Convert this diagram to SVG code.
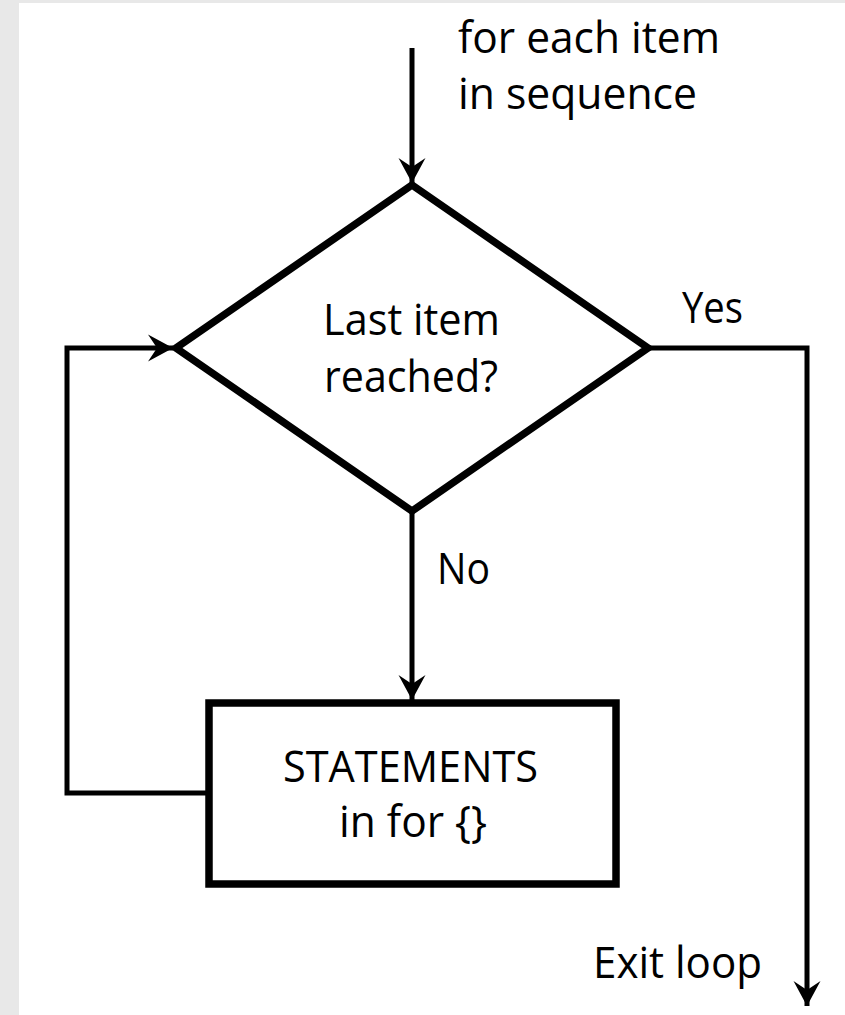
<svg xmlns="http://www.w3.org/2000/svg" width="845" height="1015" viewBox="0 0 845 1015">
  <style>
    .lbl { font-family: "Open Sans", "Noto Sans", "Liberation Sans", sans-serif; font-size: 44px; fill: #000; }
    .conn { fill: none; stroke: #000; stroke-width: 5; stroke-linejoin: miter; }
    .shape { fill: #fff; stroke: #000; stroke-width: 7.5; stroke-linejoin: miter; }
  </style>
  <defs>
    <marker id="arrow" markerUnits="userSpaceOnUse" markerWidth="30" markerHeight="30" viewBox="-26 -15 28 30" refX="0" refY="0" orient="auto">
      <path d="M0,0 L-25,-13.5 L-16,0 L-25,13.5 Z" fill="#000"/>
    </marker>
  </defs>
  <rect x="0" y="0" width="845" height="1015" fill="#e8e8e8"/>
  <rect x="19" y="3" width="826" height="1012" fill="#fff"/>

  <g id="connectors">
    <path class="conn" d="M412,48 L412,183" marker-end="url(#arrow)"/>
    <path class="conn" d="M412,511 L412,700" marker-end="url(#arrow)"/>
    <path class="conn" d="M209,793 L67,793 L67,348 L173,348" marker-end="url(#arrow)"/>
    <path class="conn" d="M648,348 L807,348 L807,1006" marker-end="url(#arrow)"/>
  </g>

  <g id="start-label">
    <text class="lbl" x="458" y="53" textLength="262" lengthAdjust="spacingAndGlyphs">for each item</text>
    <text class="lbl" x="458" y="109" textLength="239" lengthAdjust="spacingAndGlyphs">in sequence</text>
  </g>

  <g id="decision">
    <polygon class="shape" points="412,185 648,348 412,511 176,348"/>
    <text class="lbl" x="323" y="335" textLength="177" lengthAdjust="spacingAndGlyphs">Last item</text>
    <text class="lbl" x="324" y="392" textLength="174" lengthAdjust="spacingAndGlyphs">reached?</text>
  </g>

  <g id="yes-label">
    <text class="lbl" x="682" y="323" textLength="61" lengthAdjust="spacingAndGlyphs">Yes</text>
  </g>

  <g id="no-label">
    <text class="lbl" x="437" y="584" textLength="53" lengthAdjust="spacingAndGlyphs">No</text>
  </g>

  <g id="statements">
    <rect class="shape" x="209" y="703" width="407" height="181"/>
    <text class="lbl" x="283" y="782" textLength="255" lengthAdjust="spacingAndGlyphs">STATEMENTS</text>
    <text class="lbl" x="339" y="837" textLength="148" lengthAdjust="spacingAndGlyphs">in for {}</text>
  </g>

  <g id="exit-label">
    <text class="lbl" x="593" y="978" textLength="169" lengthAdjust="spacingAndGlyphs">Exit loop</text>
  </g>
</svg>
